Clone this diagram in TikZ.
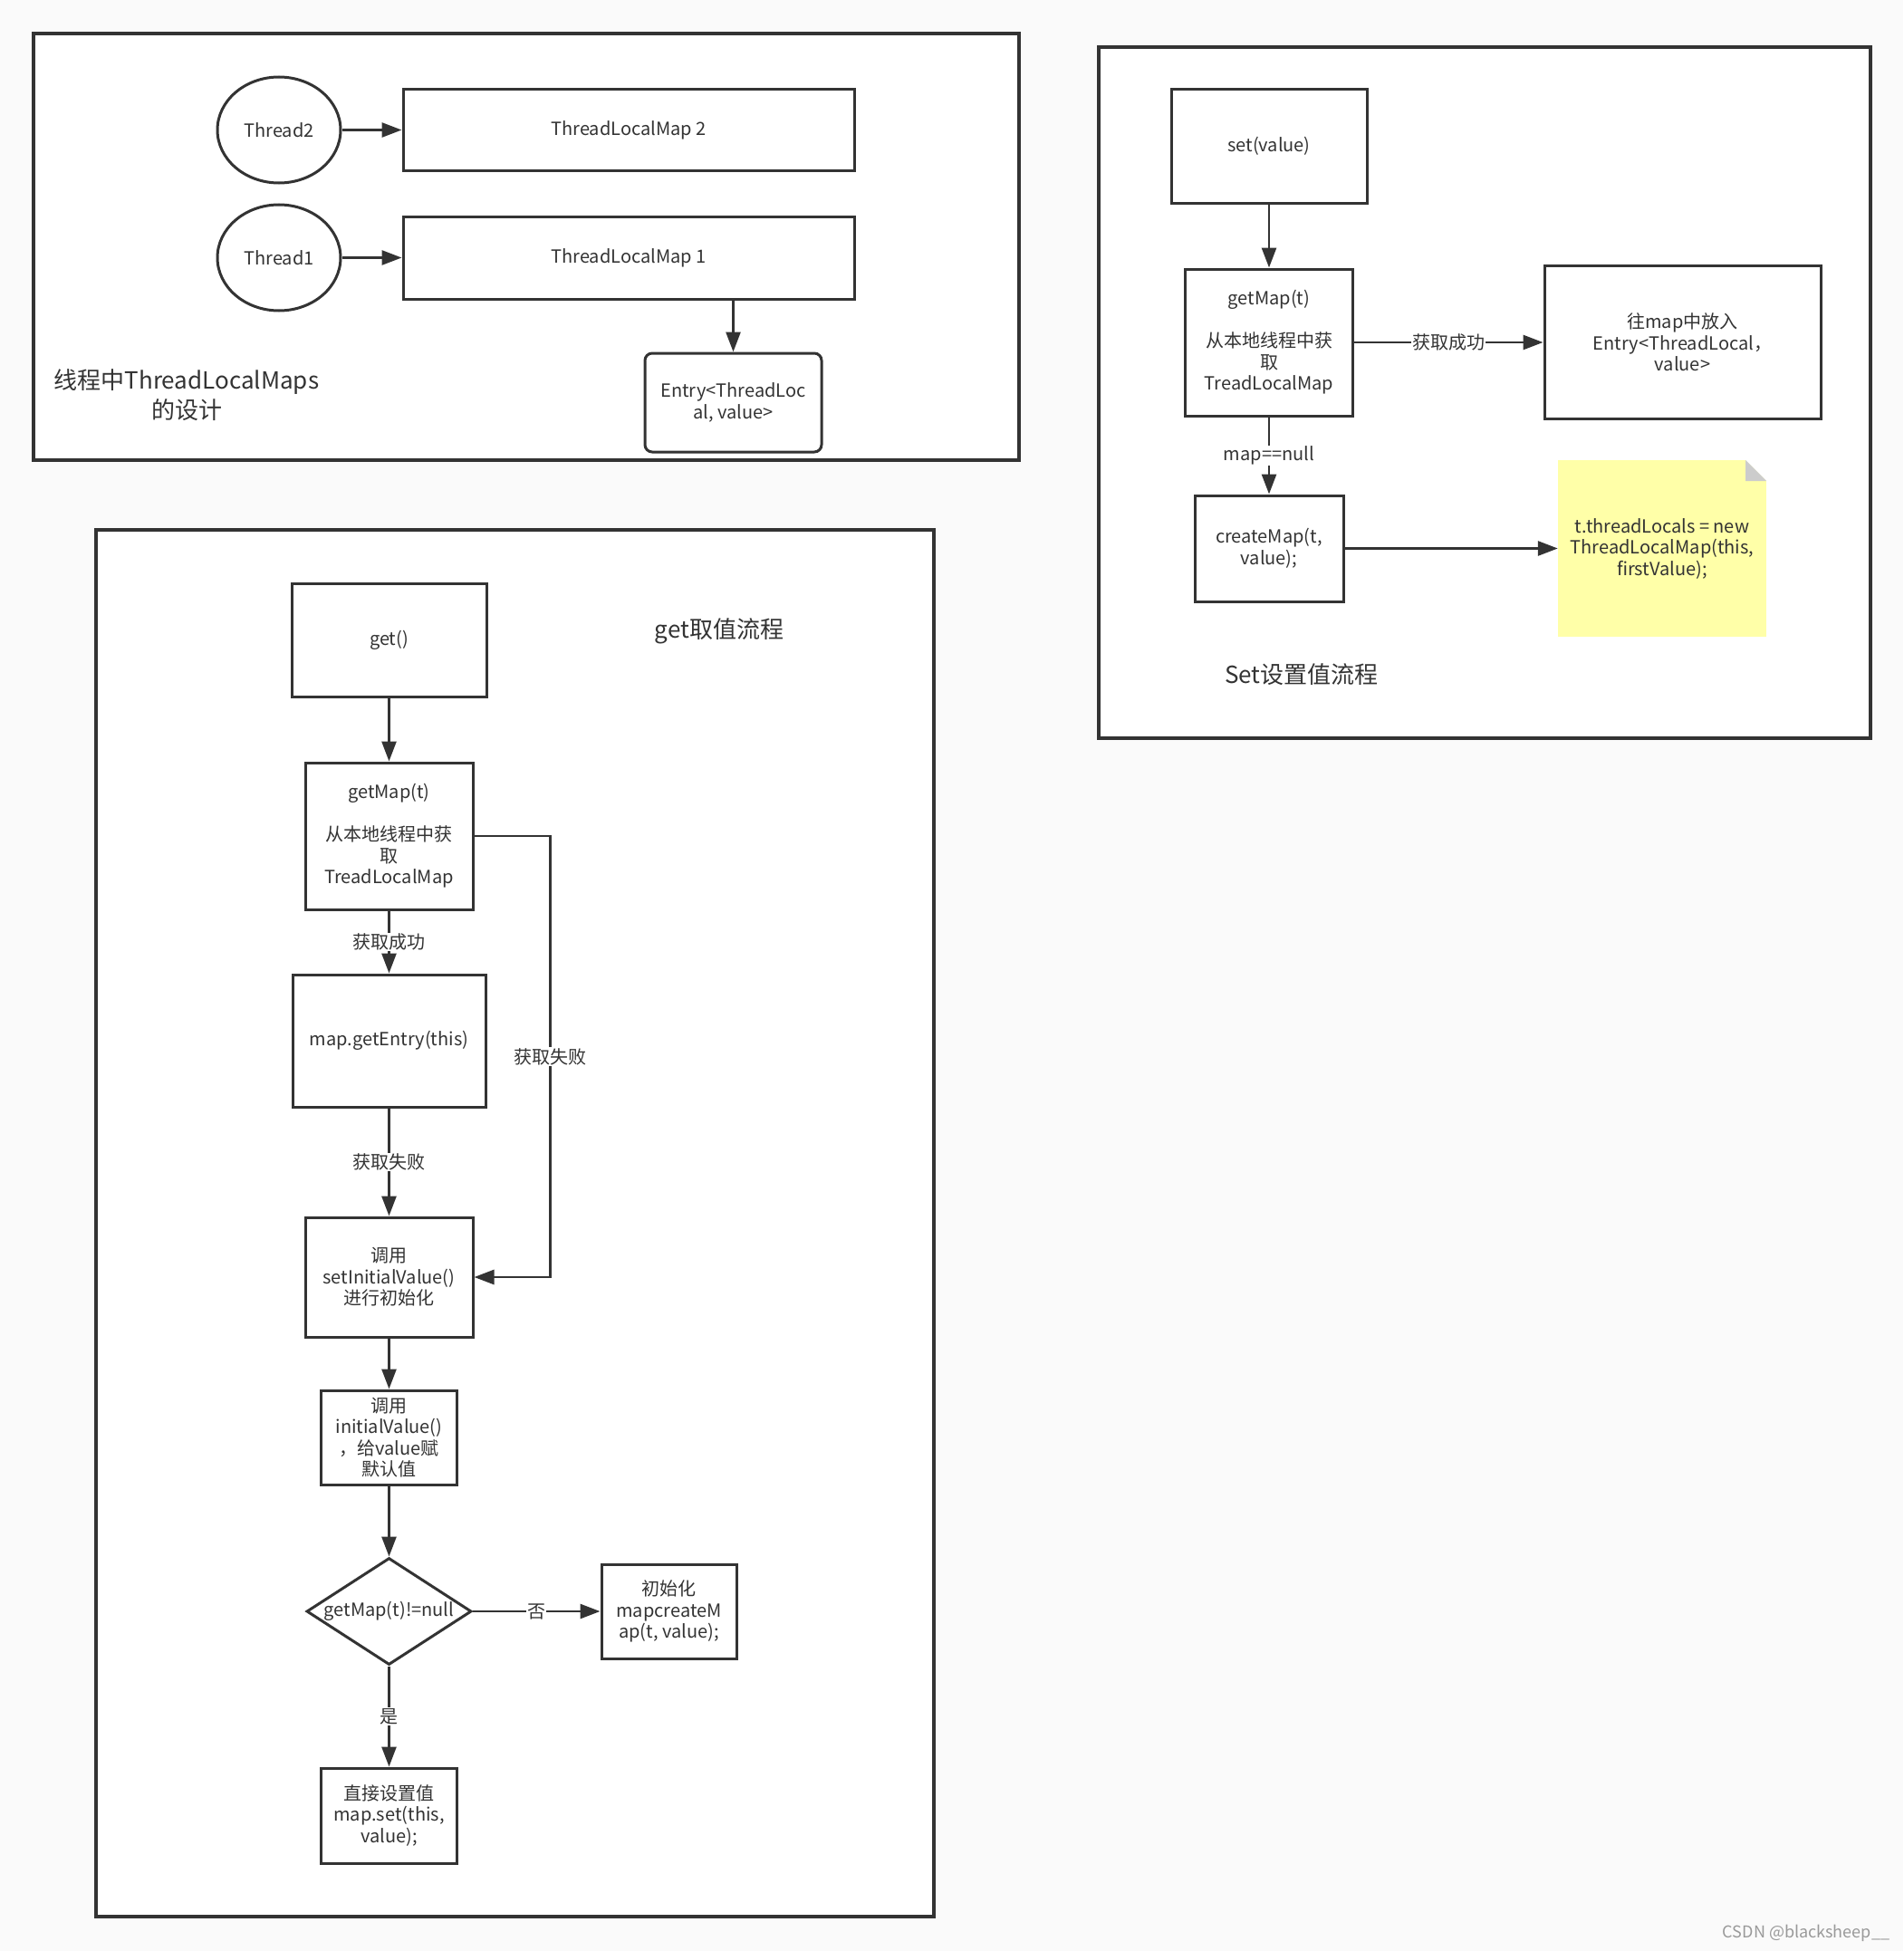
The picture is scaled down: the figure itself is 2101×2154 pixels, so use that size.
\documentclass[tikz,border=0pt]{standalone}
\usepackage{fontspec}
\setmainfont{Noto Sans CJK SC}
\usetikzlibrary{arrows.meta,positioning,shapes.geometric,calc}
\definecolor{myline}{RGB}{51,51,51}
\definecolor{pageC}{RGB}{250,250,250}
\definecolor{noteC}{RGB}{255,255,168}
\definecolor{foldC}{RGB}{204,204,204}
\newcommand{\TxtFont}{\fontsize{20}{23.5}\selectfont}
\newcommand{\BigFont}{\fontsize{26}{33}\selectfont}
\newcommand{\FoldS}{23pt}
\tikzset{
    line/.style   = {-{Triangle[length=22pt,width=16pt]}, line width=2.7pt, draw=myline},
    frame/.style  = {draw=myline, line width=3.3pt, fill=white},
    block/.style  = {rectangle, draw=myline, line width=3pt, fill=white,
            align=center, inner sep=2pt, text=myline, font=\TxtFont},
    thread/.style = {ellipse, draw=myline, line width=3pt, fill=white,
            minimum width=136pt, minimum height=117pt, inner sep=0pt,
            text=myline, font=\TxtFont},
    decision/.style = {diamond, draw=myline, line width=3pt, fill=white,
            minimum width=182pt, minimum height=118pt, inner sep=0pt},
    note/.style   = {fill=noteC, minimum width=230pt, minimum height=195pt,
            align=center, inner sep=0pt, text=myline, font=\TxtFont,
            path picture={
                % folded corner
                \fill[white] (path picture bounding box.north east) -- ++(-\FoldS,0pt)
                    -- ++(\FoldS,-\FoldS) -- cycle;
                \fill[foldC] (path picture bounding box.north east) ++(-\FoldS,0pt)
                    -- ++(0pt,-\FoldS) -- ++(\FoldS,0pt) -- cycle;
            }},
    lbl/.style    = {fill=white, inner sep=1pt, text=myline, font=\TxtFont},
    title/.style  = {align=center, text=myline, font=\BigFont},
}

\begin{document}
\begin{tikzpicture}[x=1pt, y=-1pt]
    \useasboundingbox (0,0) rectangle (2101,2154);
    \fill[pageC] (0,0) rectangle (2101,2154);

    % frames
    \draw[frame] (37,37) rectangle (1125,508);
    \draw[frame] (1213,52) rectangle (2065,815);
    \draw[frame] (106,585) rectangle (1031,2116);

    % ThreadLocalMaps design
    \node[thread] (thr2) at (308,143.5) {Thread2};
    \node[thread] (thr1) at (308,284.5) {Thread1};
    \node[block, minimum width=498pt, minimum height=90pt] (map2) at (694,143.5) {ThreadLocalMap 2};
    \node[block, minimum width=498pt, minimum height=91pt] (map1) at (694,284.5) {ThreadLocalMap 1};
    \node[block, rounded corners=8pt, minimum width=195pt, minimum height=109pt] (entry) at (809.5,444.5) {Entry<ThreadLoc\\al, value>};
    \node[title] (t1) at (206,436) {线程中ThreadLocalMaps\\的设计};

    \draw[line] (thr2) -- (map2);
    \draw[line] (thr1) -- (map1);
    \draw[line] (entry.north |- map1.south) -- (entry.north);

    % set flow
    \node[block, minimum width=216pt, minimum height=125pt] (setv) at (1401,161.5) {set(value)};
    \node[block, minimum width=185pt, minimum height=162pt] (sgetmap) at (1401,378) {getMap(t)\\[23.5pt]从本地线程中获\\取\\TreadLocalMap};
    \node[block, minimum width=305pt, minimum height=169pt] (sput) at (1857.5,378) {往map中放入\\Entry<ThreadLocal，\\value>};
    \node[block, minimum width=164pt, minimum height=117pt] (screate) at (1401,605.5) {createMap(t,\\value);};
    \node[note] (snote) at (1835,605.5) {t.threadLocals = new\\ThreadLocalMap(this,\\firstValue);};
    \node[title] (t2) at (1437,745) {Set设置值流程};

    \draw[line] (setv) -- (sgetmap);
    \draw[line] (sgetmap) -- node[lbl] {获取成功} (sput);
    \draw[line] (sgetmap) -- node[lbl] {map==null} (screate);
    \draw[line] (screate) -- (snote);

    % get flow
    \node[block, minimum width=215pt, minimum height=125pt] (gget) at (429.5,706.5) {get()};
    \node[block, minimum width=185pt, minimum height=162pt] (ggetmap) at (429.5,923) {getMap(t)\\[23.5pt]从本地线程中获\\取\\TreadLocalMap};
    \node[block, minimum width=213pt, minimum height=146pt] (gentry) at (429.5,1149) {map.getEntry(this)};
    \node[block, minimum width=185pt, minimum height=132pt] (ginit) at (429.5,1410) {调用\\setInitialValue()\\进行初始化};
    \node[block, minimum width=150pt, minimum height=104pt] (gival) at (429.5,1587) {调用\\initialValue()\\，给value赋\\默认值};
    \node[decision] (gdec) at (429.5,1779) {};
    \node[text=myline, font=\TxtFont] (gdect) at (gdec) {getMap(t)!=null};
    \node[block, minimum width=149pt, minimum height=104pt] (gcreate) at (738.5,1779) {初始化\\mapcreateM\\ap(t, value);};
    \node[block, minimum width=150pt, minimum height=105pt] (gset) at (429.5,2004.5) {直接设置值\\map.set(this,\\value);};
    \node[title] (t3) at (794,697) {get取值流程};

    \draw[line] (gget) -- (ggetmap);
    \draw[line] (ggetmap) -- node[lbl] {获取成功} (gentry);
    \draw[line] (gentry) -- node[lbl] {获取失败} (ginit);
    \draw[line] (ggetmap.east) -- ++(84,0) |- node[lbl, pos=0.25] {获取失败} (ginit.east);
    \draw[line] (ginit) -- (gival);
    \draw[line] (gival) -- (gdec.north);
    \draw[line] (gdec.east) -- node[lbl] {否} (gcreate);
    \draw[line] (gdec.south) -- node[lbl] {是} (gset);

    % watermark
    \node[text=black!40, font=\fontsize{18}{20}\selectfont] (wm) at (1994,2134) {CSDN @blacksheep\_\_};
\end{tikzpicture}
\end{document}
